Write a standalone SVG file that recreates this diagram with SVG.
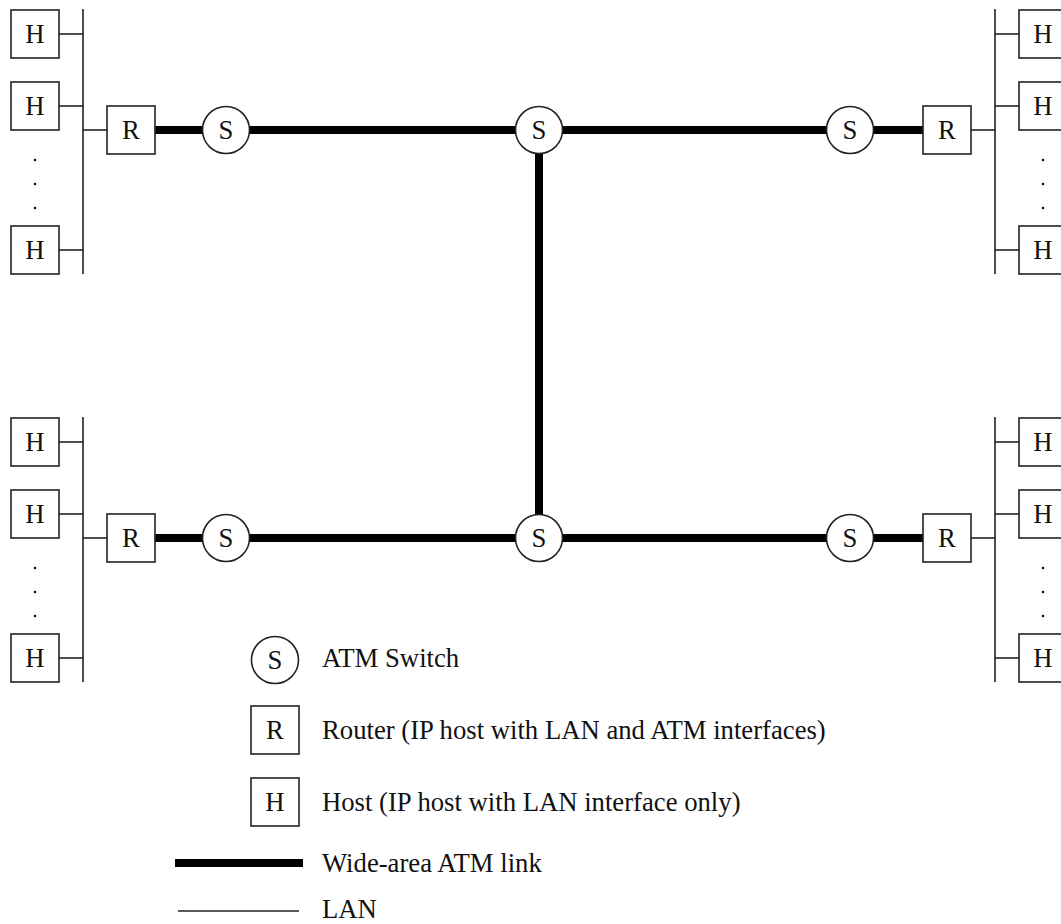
<svg xmlns="http://www.w3.org/2000/svg" width="1061" height="924" viewBox="0 0 1061 924">
<style>
.box{fill:#fff;stroke:#222;stroke-width:1.6}
.sw{fill:#fff;stroke:#222;stroke-width:1.6}
.lan{stroke:#222;stroke-width:1.6;fill:none}
.atm{stroke:#000;stroke-width:8;fill:none}
.lbl{font-family:"Liberation Serif","Times New Roman",serif;font-size:26.7px;fill:#111;text-anchor:middle}
.leg{font-family:"Liberation Serif","Times New Roman",serif;font-size:26.7px;fill:#111}
.dot{fill:#111}
</style>
<defs>
<g id="hbox"><rect class="box" x="0" y="0" width="48" height="48"/><text class="lbl" x="24" y="33.3">H</text></g>
<g id="rbox"><rect class="box" x="0" y="0" width="48" height="48"/><text class="lbl" x="24" y="33.3">R</text></g>
<g id="sw"><circle class="sw" cx="0" cy="0" r="23.5"/><text class="lbl" x="0" y="9.3">S</text></g>
</defs>
<g id="connectors">
<!-- ATM links -->
<line class="atm" x1="155" y1="130" x2="923" y2="130"/>
<line class="atm" x1="155" y1="538" x2="923" y2="538"/>
<line class="atm" x1="539" y1="130" x2="539" y2="538"/>
<!-- LAN top-left -->
<line class="lan" x1="83" y1="9" x2="83" y2="274"/>
<line class="lan" x1="59" y1="34" x2="83" y2="34"/>
<line class="lan" x1="59" y1="106" x2="83" y2="106"/>
<line class="lan" x1="59" y1="250" x2="83" y2="250"/>
<line class="lan" x1="83" y1="130" x2="107" y2="130"/>
<!-- LAN top-right -->
<line class="lan" x1="995" y1="9" x2="995" y2="274"/>
<line class="lan" x1="995" y1="34" x2="1019" y2="34"/>
<line class="lan" x1="995" y1="106" x2="1019" y2="106"/>
<line class="lan" x1="995" y1="250" x2="1019" y2="250"/>
<line class="lan" x1="971" y1="130" x2="995" y2="130"/>
<!-- LAN bottom-left -->
<line class="lan" x1="83" y1="417" x2="83" y2="682"/>
<line class="lan" x1="59" y1="442" x2="83" y2="442"/>
<line class="lan" x1="59" y1="514" x2="83" y2="514"/>
<line class="lan" x1="59" y1="658" x2="83" y2="658"/>
<line class="lan" x1="83" y1="538" x2="107" y2="538"/>
<!-- LAN bottom-right -->
<line class="lan" x1="995" y1="417" x2="995" y2="682"/>
<line class="lan" x1="995" y1="442" x2="1019" y2="442"/>
<line class="lan" x1="995" y1="514" x2="1019" y2="514"/>
<line class="lan" x1="995" y1="658" x2="1019" y2="658"/>
<line class="lan" x1="971" y1="538" x2="995" y2="538"/>
</g>
<!-- top-left site -->
<g id="h-tl-1"><use href="#hbox" x="11" y="10"/></g>
<g id="h-tl-2"><use href="#hbox" x="11" y="82"/></g>
<g id="h-tl-3"><use href="#hbox" x="11" y="226"/></g>
<g id="dots-tl"><circle class="dot" cx="35" cy="160" r="1.3"/><circle class="dot" cx="35" cy="184" r="1.3"/><circle class="dot" cx="35" cy="208" r="1.3"/></g>
<g id="r-tl"><use href="#rbox" x="107" y="106"/></g>
<g id="s-tl"><use href="#sw" x="226" y="130"/></g>
<g id="s-tc"><use href="#sw" x="539" y="130"/></g>
<g id="s-tr"><use href="#sw" x="850" y="130"/></g>
<g id="r-tr"><use href="#rbox" x="923" y="106"/></g>
<g id="h-tr-1"><use href="#hbox" x="1019" y="10"/></g>
<g id="h-tr-2"><use href="#hbox" x="1019" y="82"/></g>
<g id="h-tr-3"><use href="#hbox" x="1019" y="226"/></g>
<g id="dots-tr"><circle class="dot" cx="1043" cy="160" r="1.3"/><circle class="dot" cx="1043" cy="184" r="1.3"/><circle class="dot" cx="1043" cy="208" r="1.3"/></g>
<!-- bottom -->
<g id="h-bl-1"><use href="#hbox" x="11" y="418"/></g>
<g id="h-bl-2"><use href="#hbox" x="11" y="490"/></g>
<g id="h-bl-3"><use href="#hbox" x="11" y="634"/></g>
<g id="dots-bl"><circle class="dot" cx="35" cy="568" r="1.3"/><circle class="dot" cx="35" cy="592" r="1.3"/><circle class="dot" cx="35" cy="616" r="1.3"/></g>
<g id="r-bl"><use href="#rbox" x="107" y="514"/></g>
<g id="s-bl"><use href="#sw" x="226" y="538"/></g>
<g id="s-bc"><use href="#sw" x="539" y="538"/></g>
<g id="s-br"><use href="#sw" x="850" y="538"/></g>
<g id="r-br"><use href="#rbox" x="923" y="514"/></g>
<g id="h-br-1"><use href="#hbox" x="1019" y="418"/></g>
<g id="h-br-2"><use href="#hbox" x="1019" y="490"/></g>
<g id="h-br-3"><use href="#hbox" x="1019" y="634"/></g>
<g id="dots-br"><circle class="dot" cx="1043" cy="568" r="1.3"/><circle class="dot" cx="1043" cy="592" r="1.3"/><circle class="dot" cx="1043" cy="616" r="1.3"/></g>
<!-- legend -->
<g id="legend">
<use href="#sw" x="275" y="660"/>
<text class="leg" x="322" y="667">ATM Switch</text>
<use href="#rbox" x="251" y="706"/>
<text class="leg" x="322" y="739">Router (IP host with LAN and ATM interfaces)</text>
<use href="#hbox" x="251" y="778"/>
<text class="leg" x="322" y="811">Host (IP host with LAN interface only)</text>
<line class="atm" x1="175" y1="863" x2="303" y2="863"/>
<text class="leg" x="322" y="872">Wide-area ATM link</text>
<line class="lan" x1="178" y1="911" x2="299" y2="911"/>
<text class="leg" x="322" y="918">LAN</text>
</g>
</svg>
